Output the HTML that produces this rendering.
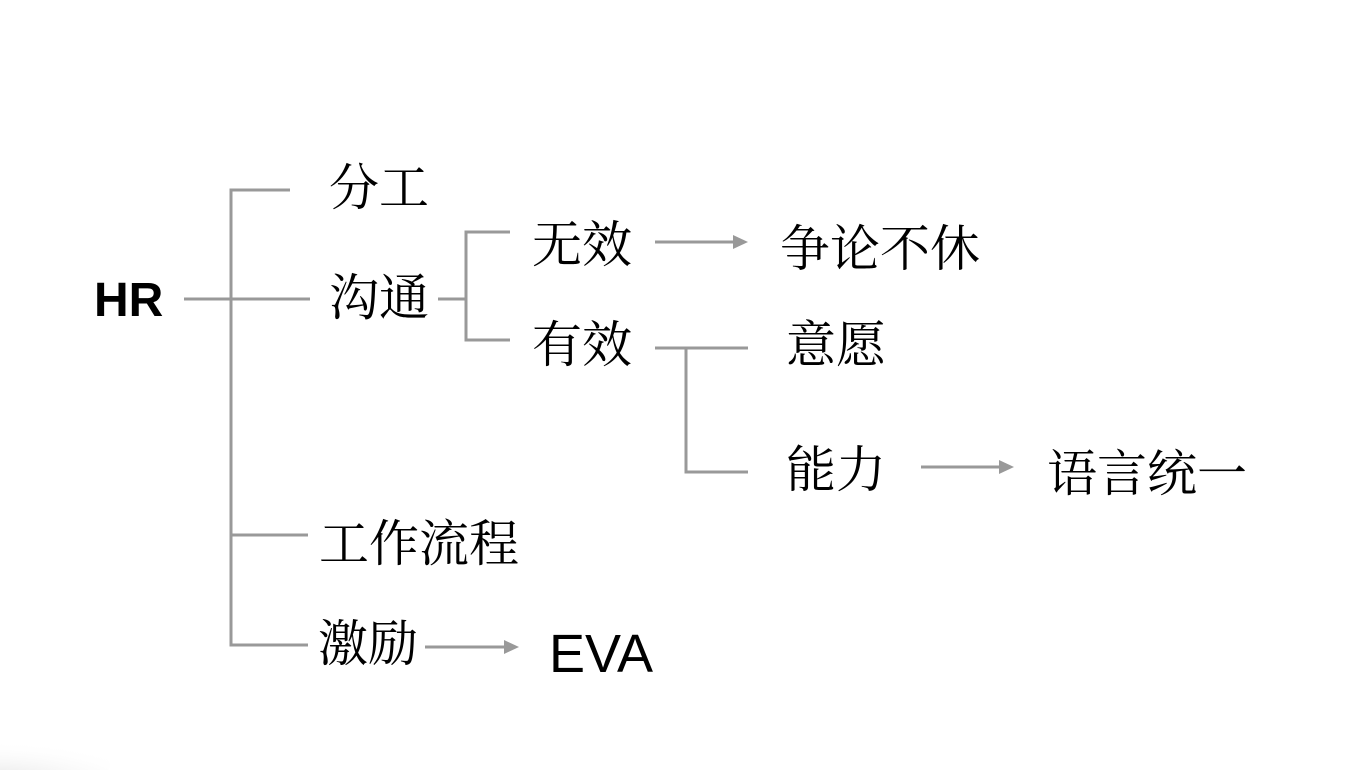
<!DOCTYPE html>
<html><head><meta charset="utf-8"><style>
html,body{margin:0;padding:0;background:#fff;width:1354px;height:770px;overflow:hidden}
svg{display:block}
.c{font-family:"Liberation Serif","Noto Serif CJK SC",serif;font-size:50px;fill:#000}
.s{font-family:"Liberation Sans","Noto Sans CJK SC",sans-serif;fill:#000}
</style></head><body>
<svg width="1354" height="770" viewBox="0 0 1354 770">
<defs>
<radialGradient id="g" cx="0.3" cy="1" r="1">
<stop offset="0" stop-color="#bbb" stop-opacity="0.6"/>
<stop offset="1" stop-color="#fff" stop-opacity="0"/>
</radialGradient>
</defs>
<ellipse cx="20" cy="765" rx="90" ry="25" fill="url(#g)"/>
<g stroke="#999" stroke-width="3" fill="none">
<path d="M184 299H310"/>
<path d="M290 190H231V645H308"/>
<path d="M231 535H308"/>
<path d="M438 299H466"/>
<path d="M510 232H466V340H510"/>
<path d="M655 242H735"/>
<path d="M655 348H748"/>
<path d="M686 348V472H748"/>
<path d="M921 467H1000"/>
<path d="M425 647H505"/>
</g>
<g fill="#999">
<polygon points="733,235 748,242 733,249"/>
<polygon points="999,460 1014,467 999,474"/>
<polygon points="504,640 519,647 504,654"/>
</g>
<text class="s" x="94" y="316" font-size="48" font-weight="bold">HR</text>
<g class="c" dominant-baseline="central">
<text x="329" y="188">分工</text>
<text x="329" y="298">沟通</text>
<text x="532" y="245">无效</text>
<text x="532" y="345">有效</text>
<text x="780" y="249">争论不休</text>
<text x="786" y="345">意愿</text>
<text x="786" y="470">能力</text>
<text x="1047" y="474">语言统一</text>
<text x="319" y="544">工作流程</text>
<text x="318" y="644">激励</text>
</g>
<text class="s" x="549" y="672" font-size="54">EVA</text>
</svg>
</body></html>
